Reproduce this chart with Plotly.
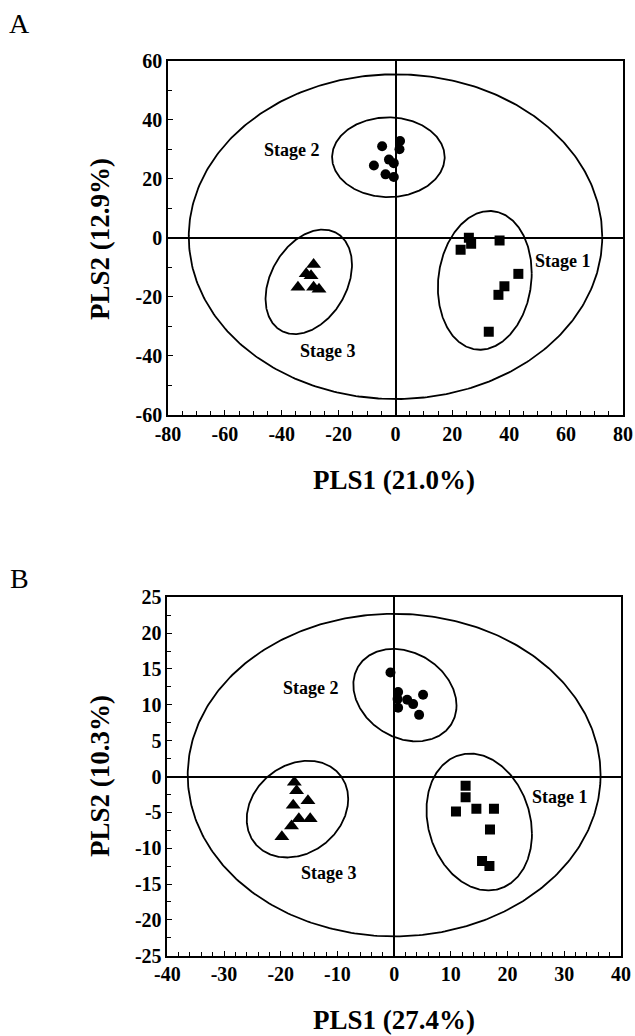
import numpy as np
import plotly.graph_objects as go

# ---------------- Panel A data ----------------
a_stage1_x = [25.8, 26.6, 22.9, 36.6, 43.2, 38.3, 36.2, 32.8]
a_stage1_y = [0.0, -2.0, -4.0, -0.9, -12.2, -16.4, -19.3, -31.8]
a_stage2_x = [-4.7, 1.6, 1.4, -2.3, -0.6, -7.6, -3.5, -0.6]
a_stage2_y = [31.0, 32.8, 30.0, 26.5, 25.3, 24.5, 21.5, 20.6]
a_stage3_x = [-34.3, -28.8, -26.9, -31.4, -29.7, -28.8]
a_stage3_y = [-16.7, -16.7, -17.4, -12.2, -12.8, -9.0]

# ellipses: center x, center y, half-width x, half-height y, phase (deg)
a_ell_cx = [0.0, 31.4, -2.5, -30.5]
a_ell_cy = [0.4, -14.4, 27.3, -14.9]
a_ell_hx = [72.7, 16.5, 19.8, 15.2]
a_ell_hy = [55.0, 23.5, 13.5, 17.7]
a_ell_ph = [90, 84, 90, 71]

a_lab_text = ["Stage 1", "Stage 2", "Stage 3"]
a_lab_x = [59.0, -36.3, -23.7]
a_lab_y = [-8.0, 29.6, -38.4]

a_xtick_vals = [-80, -60, -40, -20, 0, 20, 40, 60, 80]
a_xtick_text = ["-80", "-60", "-40", "-20", "0", "20", "40", "60", "80"]
a_ytick_vals = [-60, -40, -20, 0, 20, 40, 60]
a_ytick_text = ["-60", "-40", "-20", "0", "20", "40", "60"]

# ---------------- Panel B data ----------------
b_stage1_x = [12.6, 12.6, 10.9, 14.5, 17.6, 16.9, 15.5, 16.8]
b_stage1_y = [-1.3, -2.9, -4.9, -4.5, -4.5, -7.4, -11.8, -12.5]
b_stage2_x = [-0.65, 0.7, 0.6, 2.3, 3.35, 0.7, 5.1, 4.4]
b_stage2_y = [14.5, 11.8, 10.8, 10.7, 10.1, 9.6, 11.4, 8.6]
b_stage3_x = [-17.6, -17.2, -15.2, -17.8, -16.8, -14.8, -18.1, -19.8]
b_stage3_y = [-0.8, -2.0, -3.4, -4.0, -5.9, -5.9, -6.9, -8.4]

b_ell_cx = [0.0, 15.0, 1.9, -17.05]
b_ell_cy = [0.2, -6.35, 11.35, -4.55]
b_ell_hx = [36.4, 9.3, 9.1, 8.95]
b_ell_hy = [22.5, 9.55, 6.45, 6.75]
b_ell_ph = [90, 100, 103, 78]

b_lab_text = ["Stage 1", "Stage 2", "Stage 3"]
b_lab_x = [29.2, -14.6, -11.5]
b_lab_y = [-2.9, 12.4, -13.4]

b_xtick_vals = [-40, -30, -20, -10, 0, 10, 20, 30, 40]
b_xtick_text = ["-40", "-30", "-20", "-10", "0", "10", "20", "30", "40"]
b_ytick_vals = [-25, -20, -15, -10, -5, 0, 5, 10, 15, 20, 25]
b_ytick_text = ["-25", "-20", "-15", "-10", "-5", "0", "5", "10", "15", "20", "25"]

FONT = "Liberation Serif, Times New Roman, serif"
W, H = 635, 1036

fig = go.Figure()

def add_panel(xa, ya, s1x, s1y, s2x, s2y, s3x, s3y, cx, cy, hx, hy, ph, msz):
    t = np.linspace(0, 2 * np.pi, 400)
    for i in range(len(cx)):
        p = np.deg2rad(ph[i])
        ex = cx[i] + hx[i] * np.cos(t)
        ey = cy[i] + hy[i] * np.cos(t - p)
        fig.add_trace(go.Scatter(x=ex, y=ey, mode="lines",
                                 line=dict(color="black", width=1.8),
                                 xaxis=xa, yaxis=ya, showlegend=False, hoverinfo="skip"))
    fig.add_trace(go.Scatter(x=s1x, y=s1y, mode="markers", xaxis=xa, yaxis=ya,
                             marker=dict(symbol="square", size=msz[0], color="black"),
                             showlegend=False))
    fig.add_trace(go.Scatter(x=s2x, y=s2y, mode="markers", xaxis=xa, yaxis=ya,
                             marker=dict(symbol="circle", size=msz[1], color="black"),
                             showlegend=False))
    fig.add_trace(go.Scatter(x=s3x, y=s3y, mode="markers", xaxis=xa, yaxis=ya,
                             marker=dict(symbol="triangle-up", size=msz[2], color="black"),
                             showlegend=False))

add_panel("x", "y", a_stage1_x, a_stage1_y, a_stage2_x, a_stage2_y, a_stage3_x, a_stage3_y,
          a_ell_cx, a_ell_cy, a_ell_hx, a_ell_hy, a_ell_ph, [10, 10, 13])
add_panel("x2", "y2", b_stage1_x, b_stage1_y, b_stage2_x, b_stage2_y, b_stage3_x, b_stage3_y,
          b_ell_cx, b_ell_cy, b_ell_hx, b_ell_hy, b_ell_ph, [10, 10, 13])

tickfont = dict(family=FONT, size=20, color="black", weight="bold")

def axis(rng, tv, tt, minor, domain, anchor):
    return dict(range=rng, tickmode="array", tickvals=tv, ticktext=tt,
                domain=domain, anchor=anchor,
                automargin=False, fixedrange=True,
                showgrid=False, zeroline=True, zerolinecolor="black", zerolinewidth=2,
                showline=True, linecolor="black", linewidth=1.5, mirror=True,
                ticks="inside", ticklen=5, tickwidth=1.2, tickcolor="black",
                minor=dict(dtick=minor, tick0=0, ticks="inside", ticklen=4,
                           tickwidth=1, tickcolor="black"),
                tickfont=tickfont)

xa_dom = [168 / W, 623 / W]
xb_dom = [167.3 / W, 621 / W]
ya_dom = [1 - 415 / H, 1 - 60.7 / H]
yb_dom = [1 - 955.7 / H, 1 - 597.3 / H]

fig.update_layout(
    template="none",
    width=W, height=H, autosize=False,
    margin=dict(l=0, r=0, t=0, b=0, pad=0),
    paper_bgcolor="white", plot_bgcolor="white",
    xaxis=axis([-80, 80], a_xtick_vals, a_xtick_text, 5, xa_dom, "y"),
    yaxis=axis([-60, 60], a_ytick_vals, a_ytick_text, 10, ya_dom, "x"),
    xaxis2=axis([-40, 40], b_xtick_vals, b_xtick_text, 2, xb_dom, "y2"),
    yaxis2=axis([-25, 25], b_ytick_vals, b_ytick_text, 2.5, yb_dom, "x2"),
)

lab_font = dict(family=FONT, size=18, color="black", weight="bold")
anns = []
for txt, x, y in zip(a_lab_text, a_lab_x, a_lab_y):
    anns.append(dict(text=txt, x=x, y=y, xref="x", yref="y", showarrow=False,
                     xanchor="center", yanchor="middle", font=lab_font))
for txt, x, y in zip(b_lab_text, b_lab_x, b_lab_y):
    anns.append(dict(text=txt, x=x, y=y, xref="x2", yref="y2", showarrow=False,
                     xanchor="center", yanchor="middle", font=lab_font))

title_font = dict(family=FONT, size=27, color="black", weight="bold")
def pann(text, px, py, font, angle=0):
    return dict(text=text, x=px / W, y=1 - py / H, xref="paper", yref="paper",
                showarrow=False, xanchor="center", yanchor="middle",
                font=font, textangle=angle)

anns += [
    pann("PLS1 (21.0%)", 394, 480, title_font),
    pann("PLS2 (12.9%)", 100, 239, title_font, -90),
    pann("PLS1 (27.4%)", 394, 1020, title_font),
    pann("PLS2 (10.3%)", 100, 776, title_font, -90),
    pann("A", 19, 23, dict(family=FONT, size=28, color="black")),
    pann("B", 19, 578, dict(family=FONT, size=28, color="black")),
]
fig.update_layout(annotations=anns)

fig.write_html("out.html", config={"displayModeBar": False},
               post_script="document.body.style.margin='0';document.body.style.overflow='hidden';")
